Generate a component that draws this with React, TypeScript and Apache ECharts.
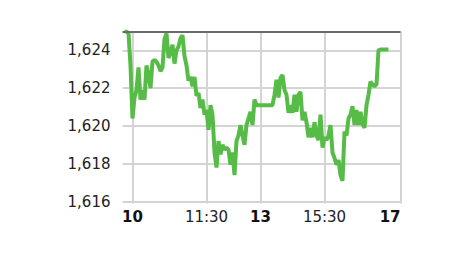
import React, { useEffect, useRef } from "react";
import * as echarts from "echarts";

// Tick positions (category index) and their labels on the time axis
const tickIndex = [5, 42, 69, 101, 139];
const tickLabels = ["10", "11:30", "13", "15:30", "17"];
const tickBold = [true, false, true, false, true];

// Price values, one per category slot
const prices: (number | null)[] = [
  null,
  1625.0, 1625.0, 1624.9, 1623.2, 1620.4, 1621.5, 1621.9, 1623.1, 1621.4, 1621.9,
  1621.4, 1623.2, 1622.7, 1622.0, 1623.4, 1623.5, 1623.4, 1623.2, 1622.9, 1623.1,
  1624.6, 1624.9, 1623.6, 1623.9, 1624.3, 1623.3, 1624.0, 1624.2, 1624.65, 1624.8,
  1623.7, 1623.2, 1622.4, 1622.6, 1622.1, 1622.6, 1621.6, 1621.75, 1620.95, 1621.4,
  1620.6, 1620.85, 1619.8, 1621.1, 1620.6, 1618.6, 1617.8, 1619.2, 1618.5, 1619.0,
  1618.75, 1618.85, 1618.75, 1617.95, 1618.6, 1617.4, 1619.2, 1619.5, 1620.05, 1619.5,
  1619.0, 1620.05, 1620.4, 1620.75, 1620.05, 1621.4, 1621.1, 1621.1, 1621.1, 1621.1,
  1621.1, 1621.1, 1621.1, 1621.1, 1621.1, 1621.65, 1622.45, 1621.5, 1622.55, 1622.7,
  1621.9, 1621.65, 1620.7, 1621.1, 1620.7, 1621.65, 1620.75, 1621.65, 1621.8, 1620.3,
  1620.75, 1620.2, 1619.4, 1619.9, 1619.4, 1620.2, 1619.5, 1619.25, 1620.6, 1618.85,
  1619.4, 1619.25, 1619.5, 1620.05, 1618.6, 1618.3, 1617.95, 1618.2, 1617.4, 1617.1,
  1619.7, 1619.5, 1620.4, 1620.6, 1621.05, 1620.05, 1620.85, 1620.05, 1620.75, 1620.1,
  1619.9, 1621.1, 1621.65, 1622.35, 1622.2, 1622.1, 1622.2, 1624.0, 1624.05, 1624.05,
  1624.05, 1624.05, 1624.05,
  null, null, null, null, null, null,
];

const referenceLevel = 1625;
const yMin = 1616;
const yMax = 1625;
const yStep = 2;

const categories = prices.map((_, i) => String(i));
const FONT = "DejaVu Sans";

export default function App() {
  const ref = useRef<HTMLDivElement>(null);
  useEffect(() => {
    if (!ref.current) return;
    const chart = echarts.init(ref.current, undefined, { renderer: "svg" });
    const isTick = (i: number) => tickIndex.includes(i);
    chart.setOption({
      animation: false,
      grid: { left: 122.5, right: 73.5, top: 31.5, bottom: 55.4, containLabel: false },
      xAxis: {
        type: "category",
        data: categories,
        boundaryGap: false,
        axisLine: { show: false },
        axisTick: {
          show: true,
          interval: (i: number) => isTick(i),
          length: 2,
          lineStyle: { color: "#d4d4d4", width: 2 },
        },
        splitLine: {
          show: true,
          interval: (i: number) => isTick(i),
          lineStyle: { color: "#d4d4d4", width: 2 },
        },
        axisLabel: {
          interval: (i: number) => isTick(i),
          margin: 8,
          alignMaxLabel: "right",
          formatter: (_v: string, i: number) => {
            const k = tickIndex.indexOf(i);
            if (k < 0) return "";
            return tickBold[k] ? `{b|${tickLabels[k]}}` : `{n|${tickLabels[k]}}`;
          },
          rich: {
            b: { fontFamily: FONT, fontSize: 15, fontWeight: "bold", color: "#111" },
            n: { fontFamily: FONT, fontSize: 15, color: "#222" },
          },
        },
      },
      yAxis: {
        type: "value",
        min: yMin,
        max: yMax,
        interval: yStep,
        axisLine: { show: false },
        axisTick: { show: false },
        splitLine: { show: true, lineStyle: { color: "#d4d4d4", width: 2 } },
        axisLabel: {
          margin: 12,
          fontFamily: FONT,
          fontSize: 15,
          color: "#222",
          formatter: (v: number) => (v === yMax ? "" : v.toLocaleString("en-US")),
        },
      },
      series: [
        {
          type: "line",
          data: prices,
          symbol: "none",
          lineStyle: { color: "#57bb47", width: 4 },
          markLine: {
            silent: true,
            symbol: ["none", "none"],
            label: { show: false },
            lineStyle: { color: "#6a6a6a", width: 2, type: "solid" },
            data: [{ yAxis: referenceLevel }],
          },
        },
      ],
    });
    return () => chart.dispose();
  }, []);
  return (
    <div
      ref={ref}
      style={{ position: "fixed", left: 0, top: 0, width: 474, height: 257, background: "#fff" }}
    />
  );
}
